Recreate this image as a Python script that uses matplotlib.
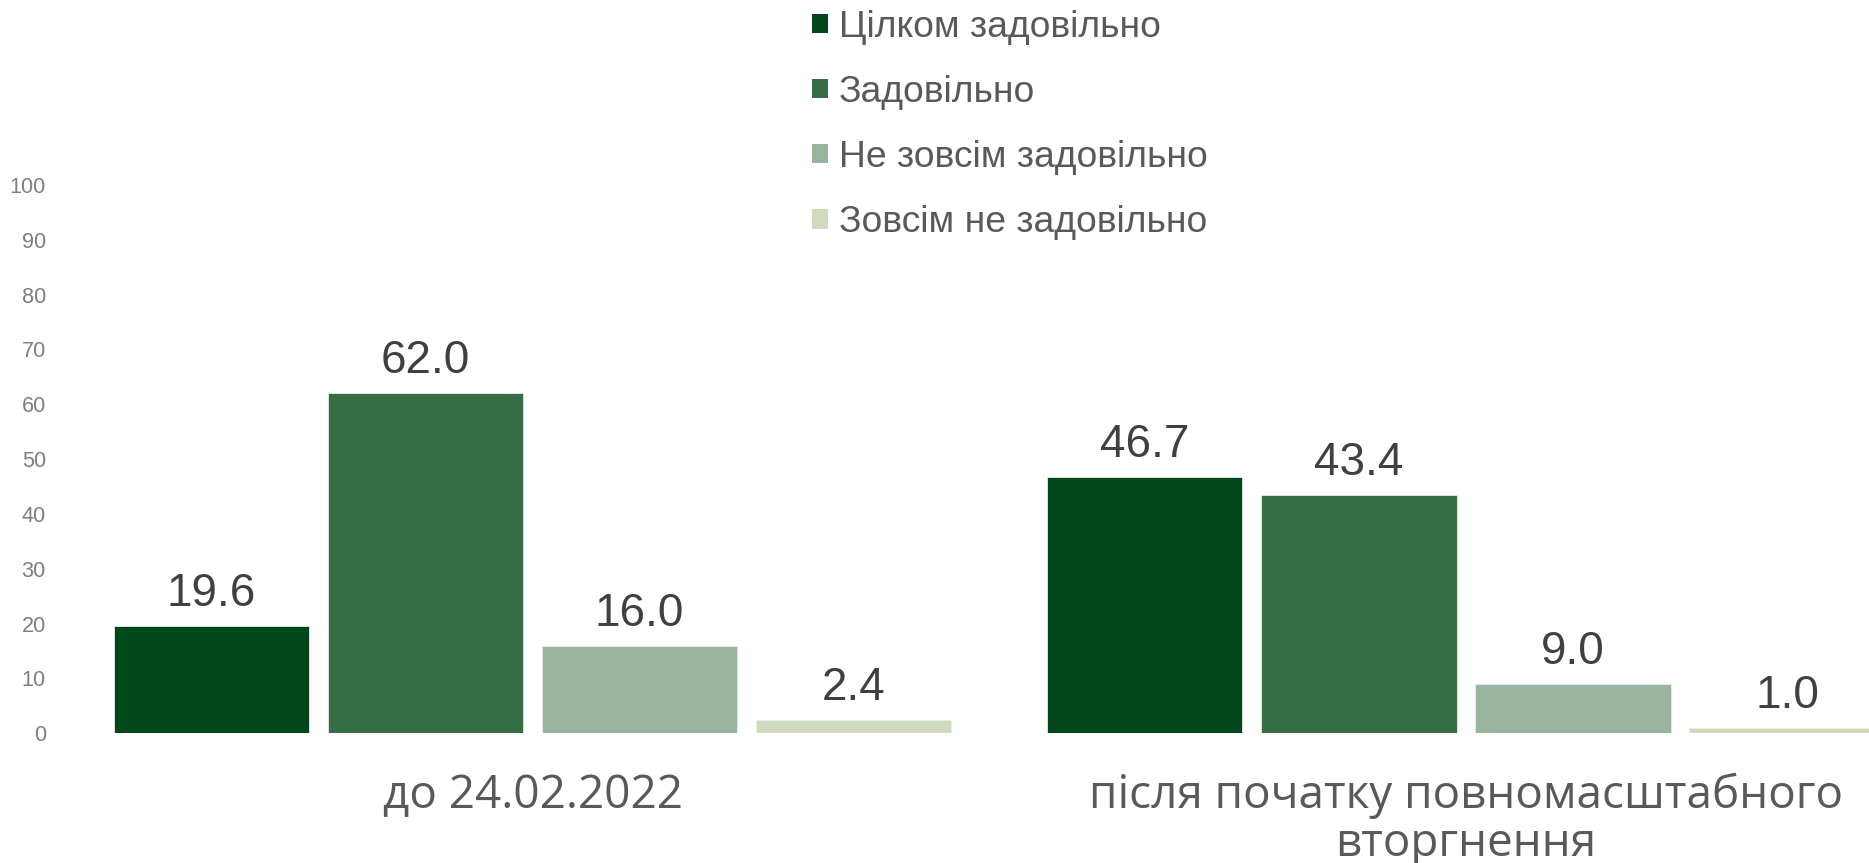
import numpy as np
import matplotlib
matplotlib.use('Agg')
from matplotlib import pyplot as plt
from matplotlib.patches import Patch

categories = ['до 24.02.2022', 'після початку повномасштабного\nвторгнення']
series = ['Цілком задовільно', 'Задовільно', 'Не зовсім задовільно', 'Зовсім не задовільно']
values = [[19.6, 46.7],
          [62.0, 43.4],
          [16.0, 9.0],
          [2.4, 1.0]]
colors = ['#02471A', '#356D44', '#9AB59F', '#D0DABD']

plt.rcParams['font.family'] = ['Liberation Sans', 'DejaVu Sans']

fig = plt.figure(figsize=(18.69, 8.63), dpi=100, facecolor='w')
ax = fig.add_axes([66/1869, 129.7/863, 1 - 66/1869, 548.4/863])

x = np.arange(len(categories))
pitch = 0.2294
width = 0.2095
for i, (name, vals) in enumerate(zip(series, values)):
    pos = x + (i - 1.5) * pitch
    bars = ax.bar(pos, vals, width, color=colors[i], label=name,
                  edgecolor='#e8ede8', linewidth=0.6)
    for b, v in zip(bars, vals):
        ax.annotate('%.1f' % v, (b.get_x() + b.get_width()/2, v),
                    xytext=(0, 14.4), textcoords='offset points',
                    ha='center', va='baseline', fontsize=33, color='#404040')

ax.set_xlim(-0.5, 1.432)
ax.set_ylim(0, 100)
ax.set_yticks(range(0, 101, 10))
ax.tick_params(axis='y', length=0, labelsize=15.6, labelcolor='#7f7f7f', pad=14.5)
ax.set_xticks(x)
ax.set_xticklabels(categories, fontsize=33, color='#595959',
                   family=['Open Sans', 'DejaVu Sans'], linespacing=1.06)
ax.tick_params(axis='x', length=0, pad=28.5)
for s in ax.spines.values():
    s.set_visible(False)

handles = [Patch(facecolor=c, edgecolor='none') for c in colors]
fig.legend(handles, series, loc='upper left', bbox_to_anchor=(805/1869, 1.0 - 2.4/863),
           frameon=False, fontsize=26.8, labelcolor='#595959',
           handlelength=0.42, handleheight=0.42, handletextpad=0.28,
           labelspacing=0.81, borderaxespad=0.0, borderpad=0.2)

plt.savefig('out.png', dpi=100)
